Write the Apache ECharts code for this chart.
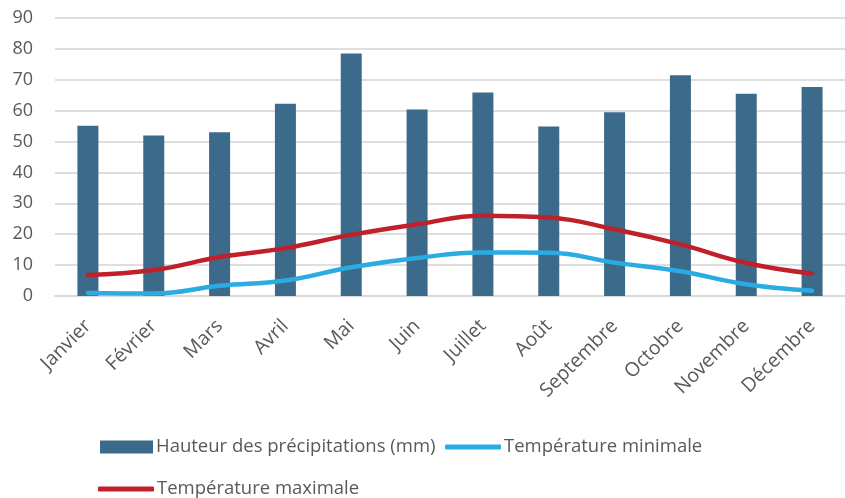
<!DOCTYPE html>
<html>
<head>
<meta charset="utf-8">
<script src="https://cdn.jsdelivr.net/npm/echarts@6/dist/echarts.min.js"></script>
<style>
  html, body { margin: 0; padding: 0; background: #ffffff; }
  #chart { width: 845px; height: 498px; }
</style>
</head>
<body>
<div id="chart"></div>
<script>
// Climate data per month
const months = ['Janvier', 'Février', 'Mars', 'Avril', 'Mai', 'Juin', 'Juillet', 'Août', 'Septembre', 'Octobre', 'Novembre', 'Décembre'];
const precipitation = [55.1, 52.0, 53.0, 62.2, 78.5, 60.4, 65.9, 54.9, 59.5, 71.5, 65.5, 67.7];
const tempMin = [1.0, 0.8, 3.3, 5.0, 9.3, 12.3, 14.1, 14.0, 10.8, 8.0, 3.8, 1.7];
const tempMax = [6.8, 8.4, 12.6, 15.5, 19.8, 23.2, 26.0, 25.4, 21.6, 16.7, 10.7, 7.3];
const yTicks = { min: 0, max: 90, interval: 10 };

const names = {
  precip: 'Hauteur des précipitations (mm)',
  min: 'Température minimale',
  max: 'Température maximale'
};

const textColor = '#595959';
const fontFamily = '"Open Sans", sans-serif';
const colors = { bar: '#3C6A8A', min: '#2AACE3', max: '#C0202A' };

const legendText = {
  color: textColor, fontSize: 18.5, fontFamily: fontFamily,
  lineHeight: 24, padding: [0, 0, 0, -2]
};

const chart = echarts.init(document.getElementById('chart'), null, { renderer: 'canvas' });

chart.setOption({
  animation: false,
  textStyle: { fontFamily: fontFamily },
  grid: { left: 55, top: 18, width: 800, height: 278, containLabel: false },
  legend: [
    {
      data: [{ name: names.precip, icon: 'rect' }],
      left: 100, top: 435, padding: 0,
      itemWidth: 53, itemHeight: 13,
      textStyle: legendText
    },
    {
      data: [{ name: names.min, icon: 'roundRect' }],
      left: 445, top: 435, padding: 0,
      itemWidth: 56, itemHeight: 5,
      textStyle: legendText
    },
    {
      data: [{ name: names.max, icon: 'roundRect' }],
      left: 98, top: 477, padding: 0,
      itemWidth: 56, itemHeight: 5,
      textStyle: legendText
    }
  ],
  xAxis: {
    type: 'category',
    data: months,
    boundaryGap: true,
    axisLine: { show: true, lineStyle: { color: '#d9d9d9', width: 2 } },
    axisTick: { show: false },
    axisLabel: {
      rotate: 45, margin: 27, interval: 0,
      color: textColor, fontSize: 19.5, fontFamily: fontFamily
    }
  },
  yAxis: {
    type: 'value',
    min: yTicks.min, max: yTicks.max, interval: yTicks.interval,
    axisLine: { show: false },
    axisTick: { show: false },
    axisLabel: { color: textColor, fontSize: 18, margin: 22, fontFamily: fontFamily },
    splitLine: { lineStyle: { color: '#dedede', width: 2 } }
  },
  series: [
    {
      name: names.precip,
      type: 'bar',
      data: precipitation,
      barWidth: 21,
      itemStyle: { color: colors.bar }
    },
    {
      name: names.min,
      type: 'line',
      data: tempMin,
      smooth: 0.45,
      symbol: 'none',
      lineStyle: { color: colors.min, width: 4.5, cap: 'round' },
      itemStyle: { color: colors.min }
    },
    {
      name: names.max,
      type: 'line',
      data: tempMax,
      smooth: 0.45,
      symbol: 'none',
      lineStyle: { color: colors.max, width: 4.5, cap: 'round' },
      itemStyle: { color: colors.max }
    }
  ]
});
</script>
</body>
</html>
